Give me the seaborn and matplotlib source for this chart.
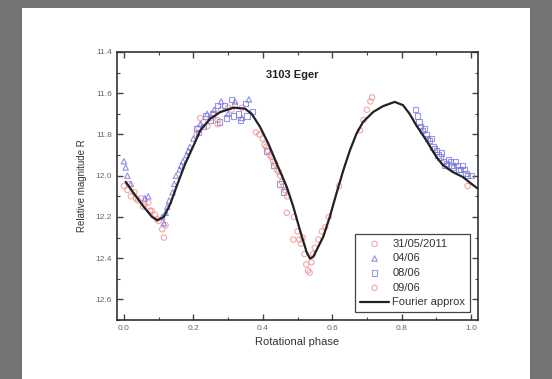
import numpy as np
import pandas as pd
import matplotlib
matplotlib.use("Agg")
import matplotlib.pyplot as plt
import seaborn as sns
from matplotlib.patches import Rectangle
from matplotlib.ticker import MultipleLocator, FormatStrFormatter

# ---- data ----
fit_phase = [0.005, 0.029, 0.057, 0.081, 0.096, 0.115, 0.134, 0.153, 0.177, 0.201, 0.220, 0.249,
             0.278, 0.316, 0.349, 0.368, 0.392, 0.416, 0.440, 0.469, 0.488, 0.507, 0.526, 0.536,
             0.545, 0.555, 0.574, 0.593, 0.612, 0.632, 0.651, 0.670, 0.689, 0.718, 0.746, 0.780,
             0.804, 0.823, 0.842, 0.871, 0.900, 0.919, 0.947, 0.976, 1.0, 1.019]
fit_mag = [12.030, 12.087, 12.151, 12.200, 12.216, 12.200, 12.135, 12.046, 11.940, 11.852, 11.780,
           11.723, 11.691, 11.670, 11.675, 11.700, 11.763, 11.844, 11.941, 12.054, 12.151, 12.264,
           12.369, 12.402, 12.394, 12.361, 12.297, 12.200, 12.087, 11.974, 11.877, 11.796, 11.739,
           11.691, 11.663, 11.642, 11.658, 11.700, 11.755, 11.828, 11.909, 11.949, 11.982, 12.006,
           12.038, 12.062]

s1_phase = [0.0, 0.01, 0.015, 0.02, 0.03, 0.035, 0.04, 0.05, 0.055, 0.06, 0.07, 0.075, 0.08, 0.09,
            0.095, 0.10, 0.11, 0.115, 0.12, 0.21, 0.215, 0.22, 0.23, 0.25, 0.26, 0.27, 0.28, 0.30,
            0.32, 0.34, 0.38, 0.49, 0.50, 0.505, 0.51, 0.52, 0.525, 0.53, 0.535, 0.54, 0.545, 0.55,
            0.56, 0.57, 0.58, 0.59, 0.62, 0.68, 0.69, 0.70, 0.71, 0.715, 0.99]
s1_mag = [12.05, 12.07, 12.04, 12.10, 12.08, 12.11, 12.12, 12.11, 12.15, 12.14, 12.13, 12.17, 12.17,
          12.19, 12.21, 12.22, 12.26, 12.30, 12.24, 11.80, 11.77, 11.72, 11.74, 11.72, 11.70, 11.75,
          11.68, 11.67, 11.66, 11.67, 11.79, 12.20, 12.27, 12.31, 12.33, 12.38, 12.43, 12.46, 12.47,
          12.42, 12.38, 12.35, 12.31, 12.27, 12.25, 12.20, 12.05, 11.78, 11.73, 11.68, 11.64, 11.62,
          12.05]

s2_phase = [0.0, 0.005, 0.01, 0.02, 0.06, 0.07, 0.11, 0.115, 0.12, 0.125, 0.13, 0.14, 0.145, 0.15,
            0.16, 0.165, 0.17, 0.18, 0.185, 0.19, 0.20, 0.22, 0.24, 0.26, 0.28, 0.30, 0.32, 0.34,
            0.36]
s2_mag = [11.93, 11.96, 12.00, 12.04, 12.11, 12.10, 12.20, 12.23, 12.18, 12.15, 12.12, 12.08, 12.04,
          12.00, 11.97, 11.95, 11.93, 11.90, 11.88, 11.86, 11.82, 11.75, 11.70, 11.68, 11.64, 11.70,
          11.64, 11.72, 11.63]

s3_phase = [0.21, 0.215, 0.23, 0.235, 0.25, 0.255, 0.27, 0.275, 0.29, 0.295, 0.31, 0.315, 0.33,
            0.335, 0.35, 0.355, 0.37, 0.41, 0.43, 0.45, 0.46, 0.84, 0.845, 0.85, 0.855, 0.86, 0.865,
            0.87, 0.875, 0.88, 0.885, 0.89, 0.895, 0.90, 0.905, 0.91, 0.915, 0.92, 0.925, 0.93,
            0.935, 0.94, 0.945, 0.95, 0.955, 0.96, 0.965, 0.97, 0.975, 0.98, 0.985, 0.99, 1.0]
s3_mag = [11.77, 11.79, 11.76, 11.71, 11.73, 11.70, 11.66, 11.74, 11.66, 11.72, 11.63, 11.71, 11.70,
          11.73, 11.65, 11.71, 11.69, 11.88, 11.95, 12.04, 12.08, 11.68, 11.71, 11.74, 11.76, 11.78,
          11.77, 11.80, 11.82, 11.83, 11.82, 11.86, 11.87, 11.88, 11.90, 11.91, 11.89, 11.93, 11.95,
          11.94, 11.92, 11.93, 11.95, 11.96, 11.93, 11.95, 11.97, 11.97, 11.95, 11.97, 11.99, 12.00,
          12.00]

s4_phase = [0.39, 0.40, 0.405, 0.41, 0.415, 0.42, 0.425, 0.43, 0.435, 0.44, 0.445, 0.45, 0.455,
            0.46, 0.465, 0.47, 0.469, 0.488, 0.515, 0.24, 0.27, 0.31]
s4_mag = [11.80, 11.82, 11.85, 11.86, 11.88, 11.90, 11.91, 11.93, 11.94, 11.97, 11.98, 12.00, 12.03,
          12.05, 12.07, 12.10, 12.18, 12.31, 12.30, 11.76, 11.73, 11.68]

labels = ["31/05/2011", "04/06", "08/06", "09/06"]
fit_label = "Fourier approx"

df = pd.concat([
    pd.DataFrame({"phase": s1_phase, "mag": s1_mag, "night": labels[0]}),
    pd.DataFrame({"phase": s2_phase, "mag": s2_mag, "night": labels[1]}),
    pd.DataFrame({"phase": s3_phase, "mag": s3_mag, "night": labels[2]}),
    pd.DataFrame({"phase": s4_phase, "mag": s4_mag, "night": labels[3]}),
], ignore_index=True)
fit = pd.DataFrame({"phase": fit_phase, "mag": fit_mag})

sns.set_style("white")
plt.rcParams['font.family'] = ['Liberation Sans', 'DejaVu Sans']

fig = plt.figure(figsize=(5.52, 3.79), dpi=100)
fig.patch.set_facecolor('#747474')
fig.patches.append(Rectangle((22/552, 0), (530-22)/552, 1 - 8/379, transform=fig.transFigure,
                             facecolor='white', edgecolor='none', zorder=-10))

ax = fig.add_axes([117/552, 1 - 320/379, (478-117)/552, (320-52)/379])
ax.set_zorder(5)
ax.set_facecolor('white')

palette = {labels[0]: '#f08a8a', labels[1]: '#6a6ae6', labels[2]: '#7878e0', labels[3]: '#ee8888'}
markers = {labels[0]: 'o', labels[1]: '^', labels[2]: 's', labels[3]: 'o'}
for lab in labels:
    sub = df[df.night == lab]
    sns.scatterplot(data=sub, x="phase", y="mag", ax=ax, marker=markers[lab], s=15,
                    facecolors='none', edgecolor=palette[lab], linewidth=0.8, alpha=0.75,
                    label=lab, zorder=2)
sns.lineplot(data=fit, x="phase", y="mag", ax=ax, color='#222222', linewidth=1.6,
             label=fit_label, zorder=3)

ax.set_xlim(-0.02, 1.02)
ax.set_ylim(12.70, 11.4)
ax.xaxis.set_major_locator(MultipleLocator(0.2))
ax.xaxis.set_minor_locator(MultipleLocator(0.1))
ax.yaxis.set_major_locator(MultipleLocator(0.2))
ax.yaxis.set_minor_locator(MultipleLocator(0.1))
ax.xaxis.set_major_formatter(FormatStrFormatter('%.1f'))
ax.yaxis.set_major_formatter(FormatStrFormatter('%.1f'))
ax.tick_params(which='both', direction='in', top=True, right=True, bottom=True, left=True,
               colors='#444444', labelcolor='#666666', labelsize=6)
ax.tick_params(which='major', length=4, width=1)
ax.tick_params(which='minor', length=2, width=0.8)
for sp in ax.spines.values():
    sp.set_color('#333333')
    sp.set_linewidth(1.2)

ax.set_xlabel("Rotational phase", fontsize=8, color='#333333', labelpad=4)
ax.set_ylabel("Relative magnitude R", fontsize=7, color='#333333', labelpad=6)
ax.text(0.485, 0.915, "3103 Eger", transform=ax.transAxes, ha='center', va='center',
        fontsize=8, fontweight='bold', color='#222222')

handles, labs = ax.get_legend_handles_labels()
leg = ax.legend(handles, labs, loc='lower right', bbox_to_anchor=(0.985, 0.02), fontsize=8,
                frameon=True, fancybox=False, edgecolor='#444444', framealpha=1,
                handlelength=2.6, borderpad=0.45, labelspacing=0.42, handletextpad=0.3,
                borderaxespad=0.2)
leg.get_frame().set_linewidth(0.9)
for t in leg.get_texts():
    t.set_color('#333333')

fig.savefig("out.png", dpi=100, facecolor=fig.get_facecolor())
